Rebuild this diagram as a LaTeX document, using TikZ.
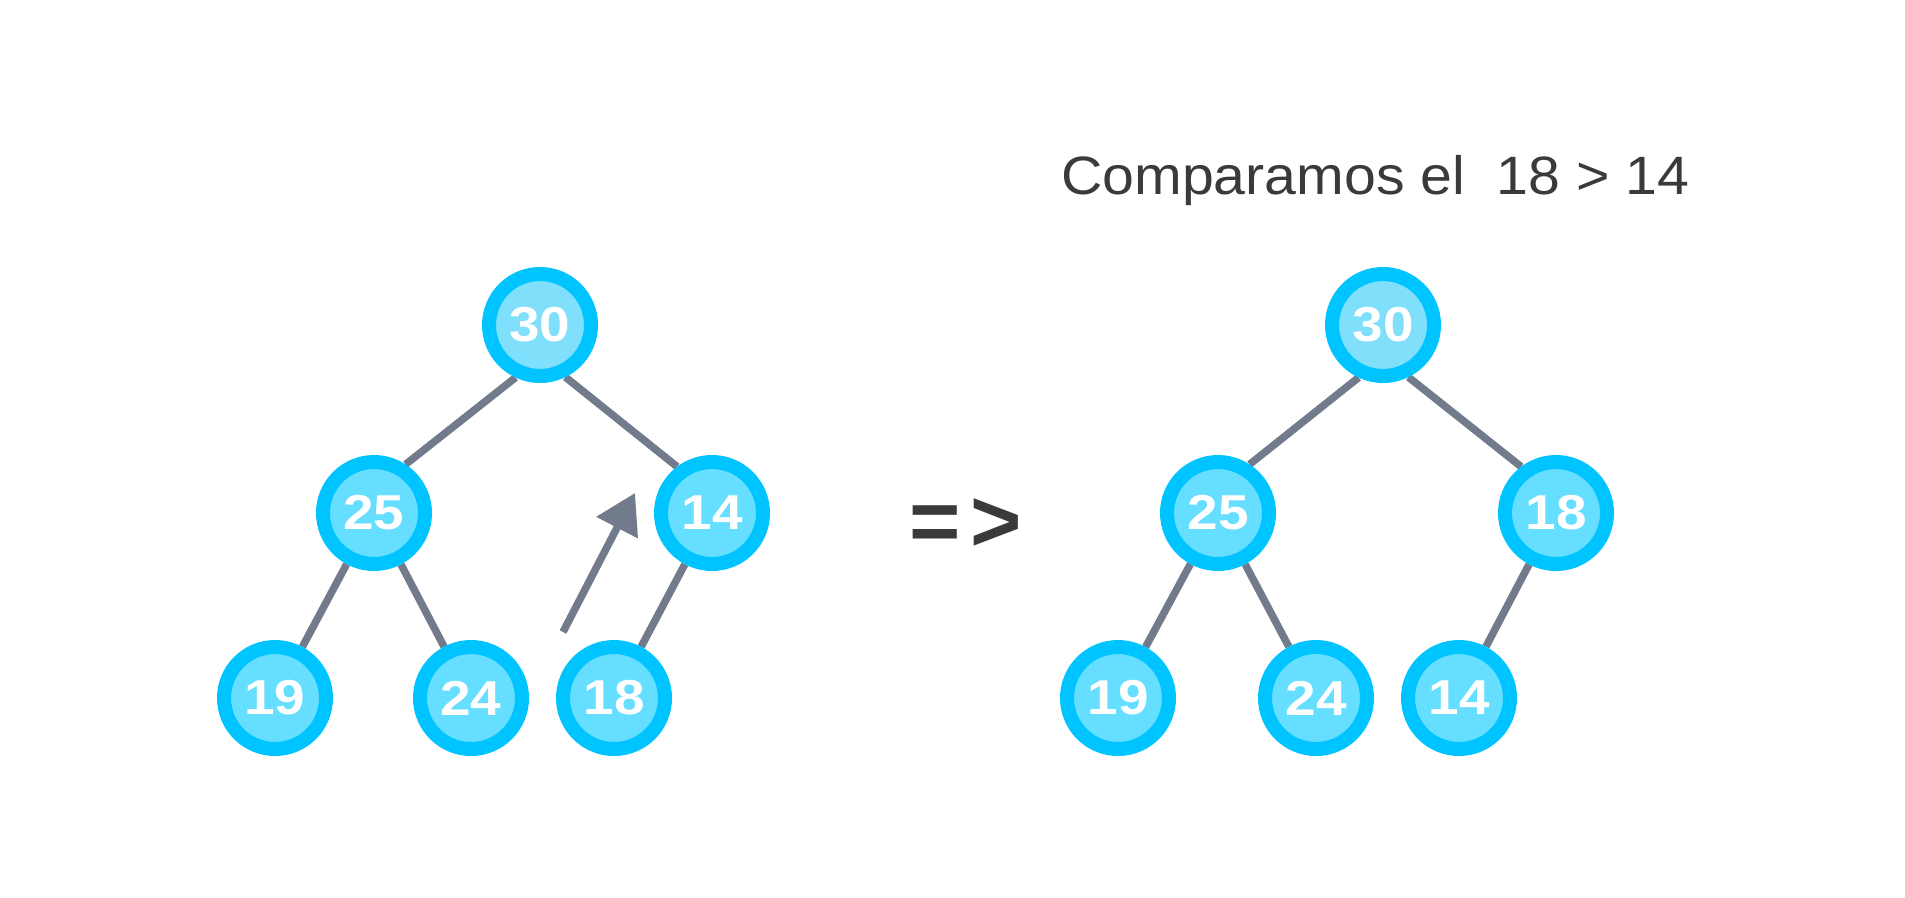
\documentclass[tikz,border=0pt]{standalone}
\usepackage{fontspec}
\setmainfont{Liberation Sans}
\usetikzlibrary{arrows.meta,backgrounds}
\definecolor{ringc}{HTML}{00C4FF}
\definecolor{innerc}{HTML}{66DEFF}
\definecolor{rootc}{HTML}{80E0FC}
\definecolor{edgec}{HTML}{727B8B}
\definecolor{textc}{HTML}{3A3A3A}
\tikzset{
  heapnode/.style={circle,draw=ringc,fill=innerc,line width=14pt,minimum size=102pt,inner sep=0pt,
    text=white,font=\fontsize{49}{49}\selectfont\bfseries\addfontfeature{FakeStretch=1.12}},
  rootnode/.style={heapnode,fill=rootc},
  heapedge/.style={draw=edgec,line width=7.5pt},
  movearrow/.style={draw=edgec,fill=edgec,line width=7.5pt,-{Triangle[length=39pt,width=45pt]}},
}
\begin{document}
\begin{tikzpicture}[x=1pt,y=-1pt]
\useasboundingbox (0,0) rectangle (1905,897);
% left tree
\node[rootnode] (a30) at (540,325) {30};
\node[heapnode] (a25) at (374,513) {25};
\node[heapnode] (a14) at (712,513) {14};
\node[heapnode] (a19) at (275,698) {19};
\node[heapnode] (a24) at (471,698) {24};
\node[heapnode] (a18) at (614,698) {18};
% right tree
\node[rootnode] (b30) at (1383,325) {30};
\node[heapnode] (b25) at (1218,513) {25};
\node[heapnode] (b18) at (1556,513) {18};
\node[heapnode] (b19) at (1118,698) {19};
\node[heapnode] (b24) at (1316,698) {24};
\node[heapnode] (b14) at (1459,698) {14};
\begin{pgfonlayer}{background}
\draw[heapedge] (a30.245) -- (a25.57);
\draw[heapedge] (a30.296) -- (a14.127);
\draw[heapedge] (a25) -- (a19);
\draw[heapedge] (a25) -- (a24);
\draw[heapedge] (a14) -- (a18);
\draw[heapedge] (b30.245) -- (b25.57);
\draw[heapedge] (b30.296) -- (b18.127);
\draw[heapedge] (b25) -- (b19);
\draw[heapedge] (b25) -- (b24);
\draw[heapedge] (b18) -- (b14);
\end{pgfonlayer}
% swap arrow
\coordinate (arrTail) at (563,632);
\coordinate (arrTip) at (635,493);
\draw[movearrow] (arrTail) -- (arrTip);
% implies sign
\node[text=textc,font=\fontsize{88}{88}\selectfont\bfseries,inner sep=0pt] (impl) at (966,525) {=\hspace{10pt}>};
% title
\node[text=textc,font=\fontsize{54}{54}\selectfont\addfontfeature{FakeStretch=1.06},anchor=base west,inner sep=0pt] (title) at (1061,194) {Comparamos el~~18 > 14};
\end{tikzpicture}
\end{document}
